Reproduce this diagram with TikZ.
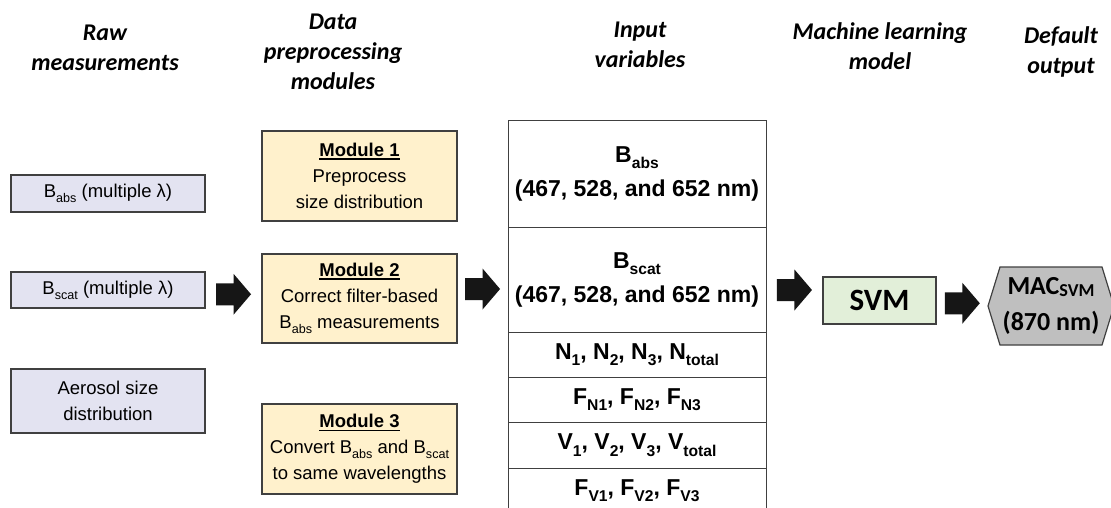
\documentclass[tikz,border=0pt]{standalone}
\usepackage{fontspec}
\setmainfont{Liberation Sans}
\newfontfamily\carlito{Carlito}
\usetikzlibrary{calc}

\definecolor{rawfill}{RGB}{227,227,241}
\definecolor{modfill}{RGB}{255,241,204}
\definecolor{svmfill}{RGB}{226,239,217}
\definecolor{hexfill}{RGB}{191,191,191}
\definecolor{edgegray}{RGB}{64,64,64}
\definecolor{arrowblack}{RGB}{22,22,22}

% lowered, reduced-size index text
\newcommand\lo[1]{\raisebox{-0.28em}{\scalebox{0.68}{#1}}}
% bold title with a heavier underline
\newsavebox\titlebox
\newcommand\modtitle[1]{\sbox\titlebox{\bfseries#1}\rlap{\rule[-3.2pt]{\wd\titlebox}{1.4pt}}\usebox\titlebox}

\begin{document}
\begin{tikzpicture}[x=1pt,y=-1pt,
  head/.style={align=center, inner sep=0pt,
    font=\carlito\bfseries\itshape\fontsize{24}{30}\selectfont},
  rawbox/.style={draw=edgegray, line width=1.2pt, fill=rawfill, minimum width=194pt,
    inner sep=0pt, align=center, font=\fontsize{18.5}{26}\selectfont},
  modbox/.style={draw=edgegray, line width=1.2pt, fill=modfill, minimum width=195pt,
    inner sep=0pt, align=center, font=\fontsize{18.5}{26}\selectfont},
  cell/.style={draw=edgegray, line width=1pt, minimum width=258pt, inner sep=0pt,
    align=center, font=\bfseries\fontsize{23}{34}\selectfont},
  svmbox/.style={draw=edgegray, line width=1.2pt, fill=svmfill, minimum width=113pt,
    minimum height=47pt, inner sep=0pt, font=\carlito\bfseries\fontsize{31}{36}\selectfont},
  outtext/.style={inner sep=0pt, align=center, font=\carlito\bfseries\fontsize{26}{36}\selectfont},
  blockarrow/.pic={\fill[arrowblack] (-17.5,-11) -- (0,-11) -- (0,-20.5) -- (17.5,0)
    -- (0,20.5) -- (0,11) -- (-17.5,11) -- cycle;}
]
\useasboundingbox (0,0) rectangle (1111,508);
\fill[white] (0,0) rectangle (1111,508);
\clip (0,0) rectangle (1111,508);

% column headings
\node[head] (h1) at (105,48) {Raw\\measurements};
\node[head] (h2) at (333,51.5) {Data\\preprocessing\\modules};
\node[head] (h3) at (640,45) {Input\\variables};
\node[head] (h4) at (880,46.5) {Machine learning\\model};
\node[head] (h5) at (1061,52) {Default\\output};

% raw measurements
\node[rawbox, minimum height=37pt] (babs) at (108,193.5) {B\lo{abs} (multiple λ)};
\node[rawbox, minimum height=36pt] (bscat) at (108,290) {B\lo{scat} (multiple λ)};
\node[rawbox, minimum height=64pt] (psd) at (108,401) {Aerosol size\\distribution};

% preprocessing modules
\node[modbox, minimum height=90pt] (mod1) at (359.5,176)
  {\modtitle{Module 1}\\Preprocess\\size distribution};
\node[modbox, minimum height=89pt] (mod2) at (359.5,298.5)
  {\modtitle{Module 2}\\Correct filter-based\\B\lo{abs} measurements};
\node[modbox, minimum height=90pt] (mod3) at (359.5,449)
  {\modtitle{Module 3}\\Convert B\lo{abs} and B\lo{scat}\\to same wavelengths};

% input variable table
\node[cell, minimum height=106pt] (v1) at (637,174) {B\lo{abs}\\(467, 528, and 652 nm)};
\node[cell, minimum height=105pt] (v2) at (637,279.5) {B\lo{scat}\\(467, 528, and 652 nm)};
\node[cell, minimum height=45pt] (v3) at (637,354.5) {N\lo{1}, N\lo{2}, N\lo{3}, N\lo{total}};
\node[cell, minimum height=45pt] (v4) at (637,399.5) {F\lo{N1}, F\lo{N2}, F\lo{N3}};
\node[cell, minimum height=46pt] (v5) at (637,445) {V\lo{1}, V\lo{2}, V\lo{3}, V\lo{total}};
\node[cell, minimum height=45pt] (v6) at (637,490.5) {F\lo{V1}, F\lo{V2}, F\lo{V3}};

% model and its output
\node[svmbox] (svm) at (879.5,300.5) {SVM};
\coordinate (mac) at (1051,306);
\fill[hexfill, draw=edgegray, line width=1.2pt]
  ([xshift=-63pt]mac) -- ([xshift=-51pt,yshift=-39pt]mac)
  -- ([xshift=51pt,yshift=-39pt]mac) -- ([xshift=63pt]mac)
  -- ([xshift=51pt,yshift=39pt]mac) -- ([xshift=-51pt,yshift=39pt]mac) -- cycle;
\coordinate (macwest) at ([xshift=-63pt]mac);
\node[outtext] (mactext) at (mac) {MAC\raisebox{-0.08em}{\scalebox{0.7}{SVM}}\\(870 nm)};

% flow arrows between the stages
\coordinate (flow) at (0,304);
\pic at ($(bscat.east)!.5!(mod2.west)$ |- flow) {blockarrow};
\pic at ($(mod2.east)!.5!(v2.west)$ |- flow) {blockarrow};
\pic at ($(v2.east)!.5!(svm.west)$ |- flow) {blockarrow};
\pic at ($(svm.east)!.5!(macwest)$ |- flow) {blockarrow};
\end{tikzpicture}
\end{document}
